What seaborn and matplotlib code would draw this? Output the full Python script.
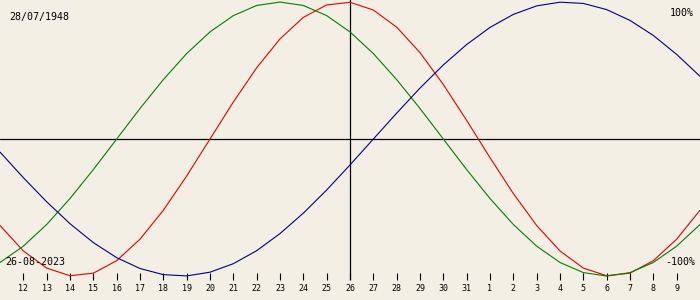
import numpy as np
import pandas as pd
import seaborn as sns
import matplotlib.pyplot as plt

# Day offsets relative to the target date 26-08-2023 (11 Aug .. 10 Sep)
offsets = list(range(-15, 16))

physical = [-0.631, -0.817, -0.942, -0.998, -0.979, -0.888, -0.731, -0.520, -0.270, 0.000,
            0.270, 0.520, 0.731, 0.888, 0.979, 0.998, 0.942, 0.817, 0.631, 0.398,
            0.136, -0.136, -0.398, -0.631, -0.817, -0.942, -0.998, -0.979, -0.888, -0.731,
            -0.520]
emotional = [-0.901, -0.782, -0.624, -0.434, -0.223, 0.000, 0.223, 0.434, 0.624, 0.782,
             0.901, 0.975, 1.000, 0.975, 0.901, 0.782, 0.624, 0.434, 0.223, 0.000,
             -0.223, -0.434, -0.624, -0.782, -0.901, -0.975, -1.000, -0.975, -0.901, -0.782,
             -0.624]
intellectual = [-0.095, -0.282, -0.458, -0.618, -0.756, -0.866, -0.945, -0.990, -0.999, -0.972,
                -0.910, -0.815, -0.690, -0.541, -0.372, -0.189, 0.000, 0.189, 0.372, 0.541,
                0.690, 0.815, 0.910, 0.972, 0.999, 0.990, 0.945, 0.866, 0.756, 0.618,
                0.458]

tick_offsets = list(range(-14, 15))
tick_labels = ['12', '13', '14', '15', '16', '17', '18', '19', '20', '21', '22', '23', '24',
               '25', '26', '27', '28', '29', '30', '31', '1', '2', '3', '4', '5', '6', '7',
               '8', '9']

birth_label = '28/07/1948'
target_label = '26-08-2023'
top_label = '100%'
bottom_label = '-100%'

bg = '#f3efe4'
colors = {'physical': '#e80000', 'emotional': '#008000', 'intellectual': '#000088'}

sns.set_theme(style='white')
plt.rcParams['font.family'] = ['DejaVu Sans Mono', 'DejaVu Sans']

df = pd.DataFrame({
    'offset': offsets * 3,
    'value': physical + emotional + intellectual,
    'cycle': ['physical'] * len(physical) + ['emotional'] * len(emotional)
             + ['intellectual'] * len(intellectual),
})

fig = plt.figure(figsize=(7, 3), dpi=100, facecolor=bg)
ax = fig.add_axes([0, 20 / 300, 1, 280 / 300])
ax.set_facecolor(bg)

sns.lineplot(data=df, x='offset', y='value', hue='cycle', palette=colors,
             linewidth=0.8, legend=False, errorbar=None, ax=ax)

ax.axhline(0, color='black', linewidth=0.9, zorder=1)
ax.axvline(0, color='black', linewidth=0.9, zorder=1)

ax.set_xlim(-15, 15)
ax.set_ylim(-1.029, 1.015)
ax.set_xticks(tick_offsets)
ax.set_xticklabels(tick_labels)
ax.set_yticks([])
ax.set_xlabel('')
ax.set_ylabel('')
for s in ax.spines.values():
    s.set_visible(False)
ax.tick_params(axis='x', direction='in', length=5, width=0.8, color='black',
               pad=3, labelsize=6, labelcolor='black', bottom=True)

fig.text(9 / 700, 1 - 17 / 300, birth_label, fontsize=7.2, color='black',
         ha='left', va='center')
fig.text(694 / 700, 1 - 13 / 300, top_label, fontsize=7.2, color='black',
         ha='right', va='center')
fig.text(5 / 700, 1 - 262 / 300, target_label, fontsize=7.2, color='black',
         ha='left', va='center')
fig.text(695 / 700, 1 - 262 / 300, bottom_label, fontsize=7.2, color='black',
         ha='right', va='center')

fig.savefig('out.png', dpi=100, facecolor=bg)
